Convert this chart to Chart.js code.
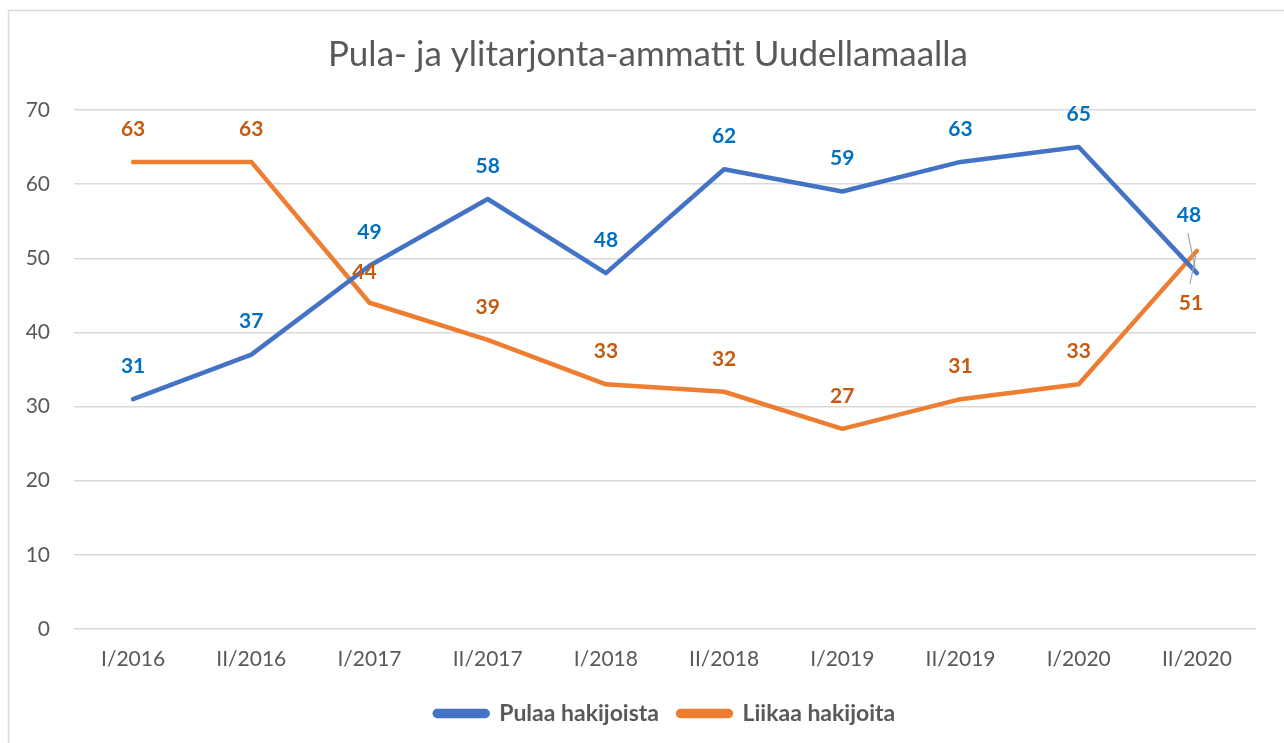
<!DOCTYPE html>
<html>
<head>
<meta charset="utf-8">
<script src="https://cdn.jsdelivr.net/npm/chart.js@4.4.1/dist/chart.umd.min.js"></script>
<style>
  html, body { margin: 0; padding: 0; background: #ffffff; }
  #wrap { width: 1284px; height: 743px; position: relative; }
</style>
</head>
<body>
<div id="wrap"><canvas id="c" width="1284" height="743"></canvas></div>
<script>
const chartTitle = "Pula- ja ylitarjonta-ammatit Uudellamaalla";
const categories = ["I/2016", "II/2016", "I/2017", "II/2017", "I/2018", "II/2018", "I/2019", "II/2019", "I/2020", "II/2020"];
const pulaaHakijoista = [31, 37, 49, 58, 48, 62, 59, 63, 65, 48];
const liikaaHakijoita = [63, 63, 44, 39, 33, 32, 27, 31, 33, 51];
const seriesNames = ["Pulaa hakijoista", "Liikaa hakijoita"];
const yTicks = [0, 10, 20, 30, 40, 50, 60, 70];

const FONT = "Lato, 'Noto Sans', sans-serif";
const lineColors = ["#4472C4", "#ED7D31"];
const labelColors = ["#0070C0", "#C55A11"];

const framePlugin = {
  id: 'frame',
  beforeDraw(chart) {
    const ctx = chart.ctx;
    ctx.save();
    ctx.fillStyle = '#ffffff';
    ctx.fillRect(0, 0, chart.width, chart.height);
    ctx.strokeStyle = '#d9d9d9';
    ctx.lineWidth = 1.5;
    ctx.strokeRect(8.5, 10.5, chart.width + 10, chart.height + 10);
    // title, centred on the frame
    ctx.fillStyle = '#595959';
    ctx.font = "35px " + FONT;
    ctx.textAlign = 'center';
    ctx.textBaseline = 'middle';
    ctx.fillText(chartTitle, 648, 55);
    ctx.restore();
  }
};

const labelPlugin = {
  id: 'pointLabels',
  afterDatasetsDraw(chart) {
    const ctx = chart.ctx;
    ctx.save();
    ctx.font = "bold 21px " + FONT;
    ctx.textAlign = 'center';
    ctx.textBaseline = 'middle';
    chart.data.datasets.forEach((ds, di) => {
      const meta = chart.getDatasetMeta(di);
      meta.data.forEach((pt, i) => {
        const last = i === meta.data.length - 1;
        let x = pt.x, y = pt.y - 33;
        if (last) {
          if (di === 0) { x = pt.x - 8; y = pt.y - 58; }
          else { x = pt.x - 6; y = pt.y + 52; }
          ctx.strokeStyle = '#a6a6a6';
          ctx.lineWidth = 1.2;
          ctx.beginPath();
          if (di === 0) { ctx.moveTo(pt.x - 9, pt.y - 40); ctx.lineTo(pt.x - 2, pt.y - 6); }
          else { ctx.moveTo(pt.x - 1, pt.y + 5); ctx.lineTo(pt.x - 7, pt.y + 33); }
          ctx.stroke();
        }
        if (di === 1 && i === 2) { x = pt.x - 5; y = pt.y - 31; }
        ctx.fillStyle = labelColors[di];
        ctx.fillText(String(ds.data[i]), x, y);
      });
    });
    ctx.restore();
  }
};

new Chart(document.getElementById('c'), {
  type: 'line',
  data: {
    labels: categories,
    datasets: [
      { label: seriesNames[0], data: pulaaHakijoista, borderColor: lineColors[0], backgroundColor: lineColors[0],
        borderWidth: 4.5, pointRadius: 0, tension: 0, borderCapStyle: 'round', borderJoinStyle: 'round' },
      { label: seriesNames[1], data: liikaaHakijoita, borderColor: lineColors[1], backgroundColor: lineColors[1],
        borderWidth: 4.5, pointRadius: 0, tension: 0, borderCapStyle: 'round', borderJoinStyle: 'round' }
    ]
  },
  options: {
    responsive: false,
    animation: false,
    devicePixelRatio: 1,
    layout: { padding: { left: 0, right: 28, top: 110, bottom: 8 } },
    plugins: {
      title: { display: false },
      legend: {
        position: 'bottom',
        fullSize: false,
        labels: {
          color: '#595959',
          font: { family: FONT, size: 23, weight: 'bold' },
          boxWidth: 53,
          boxHeight: 5,
          useBorderRadius: true,
          borderRadius: 2.5,
          padding: 19
        }
      },
      tooltip: { enabled: false }
    },
    scales: {
      x: {
        offset: true,
        grid: { display: false, drawTicks: false },
        border: { display: false },
        ticks: { color: '#595959', font: { family: FONT, size: 21 }, padding: 18, maxRotation: 0 },
        afterFit(scale) { scale.height = 54; }
      },
      y: {
        min: 0, max: 70,
        afterBuildTicks(scale) { scale.ticks = yTicks.map(v => ({ value: v })); },
        grid: { color: '#d9d9d9', lineWidth: 1.5, drawTicks: false },
        border: { display: false },
        ticks: { color: '#595959', font: { family: FONT, size: 21 }, padding: 24 },
        afterFit(scale) { scale.width = 74; }
      }
    }
  },
  plugins: [framePlugin, labelPlugin]
});
</script>
</body>
</html>
